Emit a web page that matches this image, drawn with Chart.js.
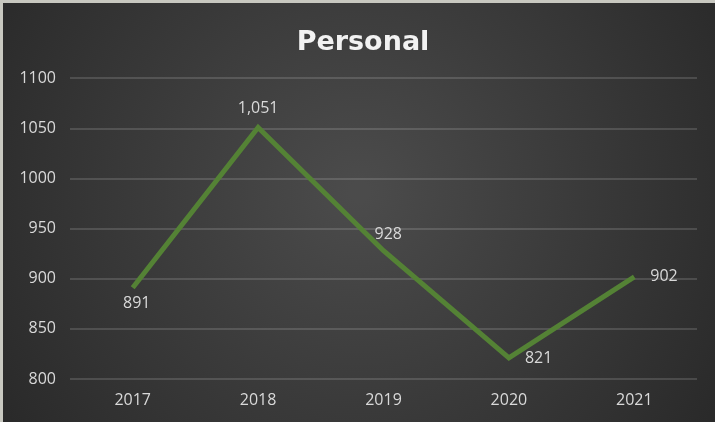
<!DOCTYPE html>
<html>
<head>
<meta charset="utf-8">
<script src="https://cdn.jsdelivr.net/npm/chart.js@4/dist/chart.umd.min.js"></script>
<style>
  html, body { margin: 0; padding: 0; background: #c8c8c0; width: 715px; height: 422px; overflow: hidden; }
  #wrap { position: absolute; left: 3px; top: 3px; width: 712px; height: 419px; }
</style>
</head>
<body>
<div id="wrap"><canvas id="personalChart"></canvas></div>
<script>
// ─── DATA ───
const years = ['2017', '2018', '2019', '2020', '2021'];
const personal = [891, 1051, 928, 821, 902];
const yTicks = [800, 850, 900, 950, 1000, 1050, 1100];

// where each value label sits relative to its point
const labelSpots = ['below', 'above', 'upright', 'right', 'right'];

const FONT = '"Open Sans", "Noto Sans", sans-serif';

// ─── BACKGROUND ───
const darkBackground = {
    id: 'darkBackground',
    beforeDraw(chart) {
        const { ctx, width, height } = chart;
        const g = ctx.createRadialGradient(width * 0.5, height * 0.45, 10, width * 0.5, height * 0.45, width * 0.62);
        g.addColorStop(0, '#4b4b4b');
        g.addColorStop(1, '#282828');
        ctx.save();
        ctx.fillStyle = g;
        ctx.fillRect(0, 0, width, height);
        ctx.restore();
    }
};

// title sits a bit right of the canvas centre in the original
const nudgeTitle = {
    id: 'nudgeTitle',
    afterLayout(chart) {
        if (chart.titleBlock) chart.titleBlock.left += 26;
    }
};

// ─── VALUE LABELS ───
const valueLabels = {
    id: 'valueLabels',
    afterDatasetsDraw(chart) {
        const { ctx } = chart;
        const meta = chart.getDatasetMeta(0);
        ctx.save();
        ctx.font = '16px ' + FONT;
        ctx.fillStyle = '#d9d9d9';
        ctx.textBaseline = 'middle';
        meta.data.forEach((pt, i) => {
            const txt = personal[i].toLocaleString('en-US');
            const spot = labelSpots[i];
            if (spot === 'below') {
                ctx.textAlign = 'center';
                ctx.fillText(txt, pt.x + 4, pt.y + 16);
            } else if (spot === 'above') {
                ctx.textAlign = 'center';
                ctx.fillText(txt, pt.x, pt.y - 19);
            } else if (spot === 'upright') {
                ctx.textAlign = 'left';
                ctx.fillText(txt, pt.x - 9, pt.y - 16);
            } else {
                ctx.textAlign = 'left';
                ctx.fillText(txt, pt.x + 16, pt.y);
            }
        });
        ctx.restore();
    }
};

// ─── CHART ───
const ctx = document.getElementById('personalChart').getContext('2d');
new Chart(ctx, {
    type: 'line',
    data: {
        labels: years,
        datasets: [{
            label: 'Personal',
            data: personal,
            borderColor: '#548235',
            borderWidth: 5,
            pointRadius: 0,
            tension: 0,
            fill: false
        }]
    },
    options: {
        responsive: true,
        maintainAspectRatio: false,
        animation: false,
        layout: { padding: { left: 0, right: 18, top: 0, bottom: 0 } },
        plugins: {
            legend: { display: false },
            tooltip: { enabled: false },
            title: {
                display: true,
                text: 'Personal',
                color: '#f2f2f2',
                font: { family: '"DejaVu Sans", sans-serif', size: 27, weight: 'bold' },
                padding: { top: 24, bottom: 19 }
            }
        },
        scales: {
            x: {
                offset: true,
                grid: { display: false, drawTicks: false },
                border: { display: false },
                ticks: {
                    color: '#d9d9d9',
                    padding: 12,
                    font: { family: FONT, size: 16 }
                },
                afterFit(s) { s.height = 43; }
            },
            y: {
                min: 800,
                max: 1100,
                afterBuildTicks(s) { s.ticks = yTicks.map(v => ({ value: v })); },
                grid: { color: 'rgba(255,255,255,0.14)', lineWidth: 2, drawTicks: false },
                border: { display: false },
                ticks: {
                    color: '#d9d9d9',
                    padding: 14,
                    font: { family: FONT, size: 16 },
                    callback: v => String(v)
                },
                afterFit(s) { s.width = 67; }
            }
        }
    },
    plugins: [darkBackground, nudgeTitle, valueLabels]
});
</script>
</body>
</html>
